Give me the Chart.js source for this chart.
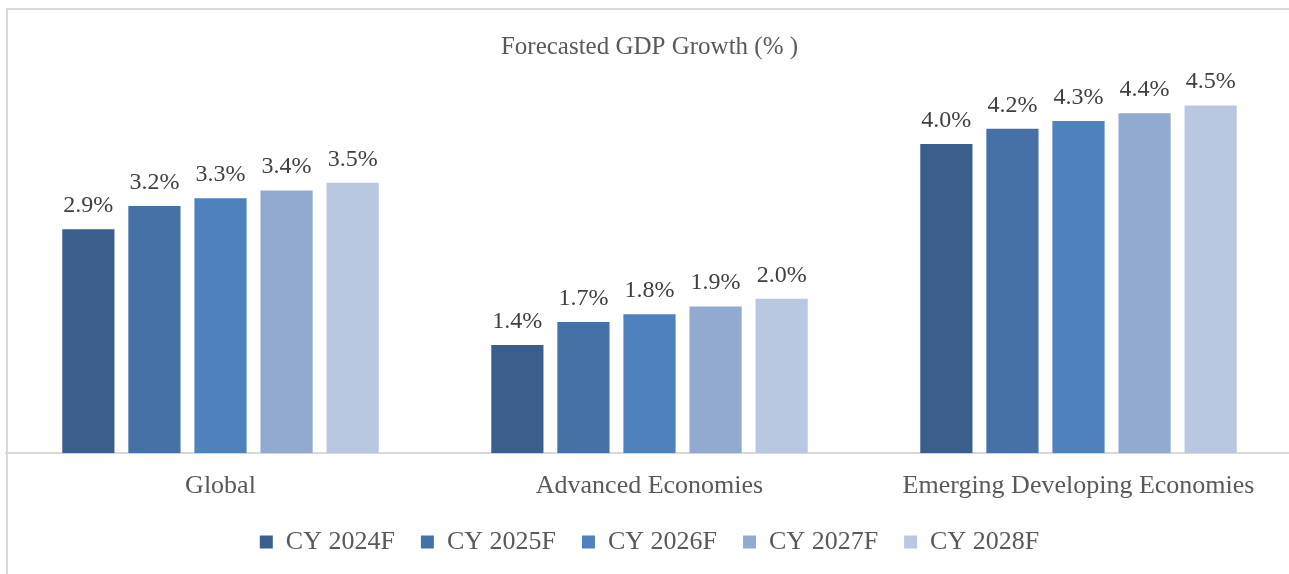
<!DOCTYPE html>
<html>
<head>
<meta charset="utf-8">
<script src="https://cdn.jsdelivr.net/npm/chart.js@4.4.1/dist/chart.umd.min.js"></script>
<style>
html,body{margin:0;padding:0;background:#fff;overflow:hidden;}
#wrap{position:absolute;left:0;top:0;width:1300px;height:574px;}
</style>
</head>
<body>
<div id="wrap"><canvas id="c" width="1300" height="574"></canvas></div>
<script>
const categories = ['Global', 'Advanced Economies', 'Emerging Developing Economies'];
const seriesNames = ['CY 2024F', 'CY 2025F', 'CY 2026F', 'CY 2027F', 'CY 2028F'];
const cy2024 = [2.9, 1.4, 4.0];
const cy2025 = [3.2, 1.7, 4.2];
const cy2026 = [3.3, 1.8, 4.3];
const cy2027 = [3.4, 1.9, 4.4];
const cy2028 = [3.5, 2.0, 4.5];
const seriesValues = [cy2024, cy2025, cy2026, cy2027, cy2028];
const seriesColors = ['#3b5e8c', '#4571a6', '#4f81bd', '#92aad0', '#bac7e0'];

const FONT = "'Liberation Serif', 'Times New Roman', serif";

const frame = {
  id: 'frame',
  beforeDraw(chart) {
    const ctx = chart.ctx;
    ctx.save();
    ctx.fillStyle = '#fff';
    ctx.fillRect(0, 0, chart.width, chart.height);
    ctx.strokeStyle = '#d9d9d9';
    ctx.lineWidth = 2;
    ctx.beginPath();
    ctx.moveTo(7, 574);
    ctx.lineTo(7, 9);
    ctx.lineTo(chart.width, 9);
    ctx.stroke();
    ctx.restore();
  }
};

const valueLabels = {
  id: 'valueLabels',
  afterDatasetsDraw(chart) {
    const ctx = chart.ctx;
    ctx.save();
    ctx.font = '24px ' + FONT;
    ctx.fillStyle = '#404040';
    ctx.textAlign = 'center';
    ctx.textBaseline = 'alphabetic';
    chart.data.datasets.forEach((ds, i) => {
      const meta = chart.getDatasetMeta(i);
      meta.data.forEach((bar, j) => {
        ctx.fillText(ds.data[j].toFixed(1) + '%', bar.x, bar.y - 17);
      });
    });
    ctx.restore();
  }
};

new Chart(document.getElementById('c'), {
  type: 'bar',
  data: {
    labels: categories,
    datasets: seriesNames.map((n, i) => ({
      label: n,
      data: seriesValues[i],
      backgroundColor: seriesColors[i],
      borderWidth: 0,
      barPercentage: 0.79,
      categoryPercentage: 0.77
    }))
  },
  options: {
    responsive: false,
    animation: false,
    layout: { padding: { left: 6, right: 7, top: 0, bottom: 9 } },
    plugins: {
      title: {
        display: true,
        text: 'Forecasted GDP Growth (% )',
        color: '#595959',
        font: { family: FONT, size: 25, weight: 'normal' },
        padding: { top: 32, bottom: 4.8 }
      },
      legend: {
        display: true,
        position: 'bottom',
        labels: {
          color: '#595959',
          font: { family: FONT, size: 26 },
          boxWidth: 13,
          boxHeight: 13,
          padding: 26
        }
      },
      tooltip: { enabled: false }
    },
    scales: {
      x: {
        grid: { display: true, drawOnChartArea: false, drawTicks: false },
        border: { display: true, color: '#d9d9d9', width: 2 },
        ticks: { color: '#595959', font: { family: FONT, size: 26 }, padding: 17 },
        afterFit(scale) { scale.height = 49.7; }
      },
      y: {
        display: false,
        min: 0,
        max: 5
      }
    }
  },
  plugins: [frame, valueLabels]
});
</script>
</body>
</html>
